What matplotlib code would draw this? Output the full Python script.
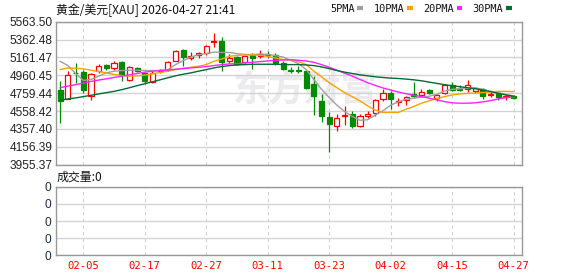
import matplotlib
matplotlib.use("Agg")
import matplotlib.pyplot as plt
from matplotlib.lines import Line2D
import numpy as np

# ---------------- data ----------------
dates = ["02-02", "02-03", "02-04", "02-05", "02-06", "02-09", "02-10", "02-11", "02-12", "02-13",
         "02-16", "02-17", "02-18", "02-19", "02-20", "02-23", "02-24", "02-25", "02-26", "02-27",
         "03-02", "03-03", "03-04", "03-05", "03-06", "03-09", "03-10", "03-11", "03-12", "03-13",
         "03-16", "03-17", "03-18", "03-19", "03-20", "03-23", "03-24", "03-25", "03-26", "03-27",
         "03-30", "03-31", "04-01", "04-02", "04-06", "04-07", "04-08", "04-09", "04-10", "04-13",
         "04-14", "04-15", "04-16", "04-17", "04-20", "04-21", "04-22", "04-23", "04-24", "04-27"]

opens = [4795, 4699, 4992, 4996, 4729, 5007, 5077, 5040, 5107, 4907,
         5044, 4981, 4888, 5014, 5018, 5126, 5248, 5152, 5192, 5211,
         5330, 5348, 5118, 5163, 5107, 5204, 5174, 5204, 5192, 5100,
         5022, 5022, 5014, 4859, 4673, 4488, 4387, 4499, 4525, 4395,
         4499, 4536, 4692, 4766, 4655, 4684, 4755, 4740, 4795, 4710,
         4766, 4847, 4810, 4803, 4784, 4803, 4736, 4758, 4717, 4725]
highs = [4896, 5007, 5100, 5025, 4988, 5089, 5092, 5126, 5118, 5063,
         5051, 4988, 5018, 5033, 5126, 5248, 5259, 5222, 5222, 5304,
         5434, 5389, 5200, 5174, 5192, 5211, 5248, 5229, 5211, 5118,
         5051, 5063, 5025, 4951, 4747, 4543, 4525, 4610, 4562, 4525,
         4562, 4692, 4810, 4784, 4703, 4729, 4885, 4810, 4810, 4747,
         4858, 4885, 4847, 4907, 4832, 4821, 4780, 4766, 4747, 4736]
lows = [4424, 4692, 4877, 4766, 4680, 4988, 5025, 5025, 4896, 4896,
        4996, 4859, 4877, 4981, 5007, 5118, 5070, 5137, 5155, 5192,
        5278, 5014, 5100, 5081, 5100, 5033, 5155, 5155, 5081, 5025,
        4988, 4988, 4810, 4514, 4432, 4100, 4330, 4402, 4365, 4384,
        4476, 4499, 4673, 4580, 4617, 4625, 4721, 4718, 4755, 4673,
        4755, 4784, 4784, 4777, 4758, 4699, 4721, 4680, 4680, 4699]
closes = [4673, 4959, 4981, 4795, 4970, 5063, 5040, 5100, 4959, 5051,
          5007, 4896, 4981, 5025, 5111, 5237, 5166, 5181, 5207, 5293,
          5341, 5111, 5152, 5092, 5181, 5152, 5200, 5185, 5100, 5033,
          5014, 5014, 4821, 4729, 4499, 4413, 4480, 4514, 4395, 4499,
          4525, 4680, 4766, 4699, 4669, 4714, 4729, 4777, 4766, 4736,
          4847, 4795, 4795, 4847, 4821, 4729, 4747, 4721, 4729, 4706]

ma5 = [5118, 5070, 4981, 4903, 4914, 4951, 4988, 5007, 5014, 5018,
       5018, 5014, 5014, 5014, 5022, 5081, 5126, 5166, 5192, 5204,
       5222, 5218, 5218, 5204, 5196, 5192, 5200, 5196, 5181, 5166,
       5129, 5092, 5025, 4914, 4803, 4710, 4625, 4554, 4498, 4455,
       4461, 4513, 4562, 4625, 4662, 4691, 4703, 4714, 4725, 4747,
       4784, 4803, 4810, 4818, 4818, 4803, 4780, 4762, 4743, 4729]
ma10 = [5025, 5044, 5040, 5033, 5018, 5003, 4988, 4970, 4959, 4951,
        4955, 4962, 4977, 4992, 5007, 5025, 5040, 5051, 5062, 5081,
        5118, 5144, 5174, 5185, 5189, 5189, 5185, 5174, 5155, 5137,
        5133, 5115, 5081, 5007, 4944, 4877, 4821, 4766, 4721, 4673,
        4617, 4569, 4543, 4543, 4543, 4580, 4610, 4647, 4673, 4699,
        4721, 4740, 4751, 4758, 4762, 4766, 4773, 4780, 4780, 4777]
ma20 = [4821, 4840, 4855, 4873, 4892, 4907, 4921, 4936, 4951, 4966,
        4981, 4996, 5007, 5014, 5022, 5029, 5036, 5044, 5051, 5059,
        5070, 5081, 5088, 5092, 5100, 5107, 5115, 5122, 5129, 5133,
        5137, 5129, 5122, 5107, 5081, 5051, 5018, 4985, 4951, 4914,
        4877, 4847, 4818, 4795, 4773, 4754, 4736, 4721, 4703, 4684,
        4665, 4651, 4647, 4647, 4651, 4662, 4677, 4695, 4710, 4717]
ma30 = [4680, 4695, 4706, 4721, 4736, 4751, 4766, 4780, 4799, 4821,
        4844, 4866, 4888, 4910, 4933, 4955, 4973, 4988, 5007, 5025,
        5044, 5059, 5070, 5077, 5081, 5085, 5085, 5085, 5085, 5081,
        5081, 5081, 5077, 5070, 5055, 5036, 5014, 4996, 4981, 4966,
        4955, 4944, 4936, 4929, 4925, 4918, 4910, 4899, 4884, 4870,
        4855, 4844, 4832, 4821, 4810, 4795, 4777, 4758, 4740, 4725]

ma_labels = ["5PMA", "10PMA", "20PMA", "30PMA"]
ma_colors = ["#a0a0a0", "#f5a300", "#ff22ff", "#006b35"]

price_ticks = [3955.37, 4156.39, 4357.40, 4558.42, 4759.44, 4960.45, 5161.47, 5362.48, 5563.50]
price_tick_labels = ["3955.37", "4156.39", "4357.40", "4558.42", "4759.44",
                     "4960.45", "5161.47", "5362.48", "5563.50"]
date_tick_labels = ["02-05", "02-17", "02-27", "03-11", "03-23", "04-02", "04-15", "04-27"]
vol_ticks = [0, 1, 2, 3, 4]
vol_tick_labels = ["0", "0", "0", "0", "0"]

title_text = "黄金/美元[XAU] 2026-04-27 21:41"
vol_title = "成交量:0"
watermark = "东方财富"

# ---------------- figure ----------------
W, H = 578, 276
fig = plt.figure(figsize=(W / 100, H / 100), dpi=100)
fig.patch.set_facecolor("white")

def px_axes(l, t, r, b):
    return fig.add_axes([l / W, 1 - b / H, (r - l) / W, (b - t) / H])

ax = px_axes(55.7, 21.7, 522.3, 164.7)
axv = px_axes(55.7, 186.7, 522.3, 255.3)

x = np.arange(len(dates))
o = np.array(opens, float); c = np.array(closes, float)
hi = np.array(highs, float); lo = np.array(lows, float)
up = c >= o
red = "#ff0000"
green = "#008a00"
grid_c = "#d4d4d4"
spine_c = "#999999"

xlim = (-0.59, 60.12)
tick_pos = [dates.index(d) for d in date_tick_labels]

for a in (ax, axv):
    a.set_xlim(*xlim)
    for s in a.spines.values():
        s.set_color(spine_c)
        s.set_linewidth(1.0)
    a.tick_params(length=0)
    a.set_xticks(tick_pos)
    for tp in tick_pos:
        a.axvline(tp, color="#cfcfcf", lw=0.8, ls=(0, (3, 3)), zorder=0.5)

# watermark
ax.text(0.535, 0.52, watermark, transform=ax.transAxes, fontsize=26, fontweight="bold",
        color="#ebebee", ha="center", va="center", family=["Noto Sans CJK SC"], zorder=0.2)

# main price axis
ax.set_ylim(price_ticks[0], price_ticks[-1])
ax.set_yticks(price_ticks)
ax.set_yticklabels(price_tick_labels)
ax.yaxis.grid(True, color=grid_c, lw=1.0, zorder=0.4)
ax.set_axisbelow(True)
ax.tick_params(axis="y", labelsize=8.6, pad=2, colors="#222222")
for t in ax.get_yticklabels():
    t.set_family("Liberation Sans")
ax.set_xticklabels([])

# candles: wicks
bw = 0.66
body_lo = np.minimum(o, c)
body_hi = np.maximum(o, c)
cols = np.where(up, red, green)
ax.vlines(x, lo, body_lo, colors=cols, lw=0.9, zorder=2)
ax.vlines(x, body_hi, hi, colors=cols, lw=0.9, zorder=2)
heights = np.maximum(body_hi - body_lo, 1.5)
ax.bar(x[up], heights[up], bottom=body_lo[up], width=bw, facecolor="white",
       edgecolor=red, linewidth=0.9, zorder=3)
ax.bar(x[~up], heights[~up], bottom=body_lo[~up], width=bw, facecolor=green,
       edgecolor=green, linewidth=0.9, zorder=3)

# moving averages
for vals, col in zip([ma5, ma10, ma20, ma30], ma_colors):
    ax.plot(x, vals, color=col, lw=1.0, zorder=4)

# volume axis
axv.set_ylim(vol_ticks[0], vol_ticks[-1])
axv.set_yticks(vol_ticks)
axv.set_yticklabels(vol_tick_labels)
axv.yaxis.grid(True, color=grid_c, lw=1.0, zorder=0.4)
axv.set_axisbelow(True)
axv.tick_params(axis="y", labelsize=8.6, pad=3, colors="#1e2a48")
axv.set_xticklabels(date_tick_labels)
axv.tick_params(axis="x", labelsize=7.6, pad=4.2, colors=red)
for t in axv.get_yticklabels():
    t.set_family("Liberation Sans")
for t in axv.get_xticklabels():
    t.set_family("DejaVu Sans Mono")

# titles
fig.text(56.5 / W, 1 - 10 / H, title_text, fontsize=8.6, family=["Noto Sans CJK SC", "DejaVu Sans"],
         color="#111111", ha="left", va="center")
fig.text(56.5 / W, 1 - 177.5 / H, vol_title, fontsize=8.6, family=["Noto Sans CJK SC", "DejaVu Sans"],
         color="#111111", ha="left", va="center")

# legend (labels followed by colour markers)
handles = [Line2D([0], [0], color=col, lw=3, solid_capstyle="butt") for col in ma_colors]
leg = fig.legend(handles, ma_labels, loc="center right", bbox_to_anchor=(512 / W, 1 - 9 / H),
                 ncol=4, markerfirst=False, frameon=False, handlelength=0.55,
                 handletextpad=0.3, columnspacing=1.0, borderaxespad=0, borderpad=0,
                 prop={"family": "DejaVu Sans Mono", "size": 7.4})
for t in leg.get_texts():
    t.set_color("#111111")

fig.savefig("out.png", dpi=100, facecolor="white")
